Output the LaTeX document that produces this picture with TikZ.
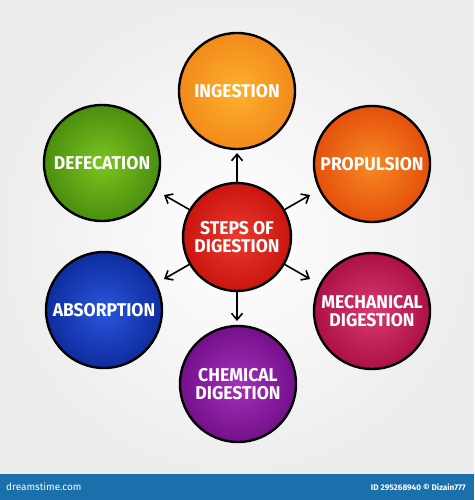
\documentclass[tikz,border=0pt]{standalone}
\usepackage{fontspec}
\newfontfamily\handfont[FakeStretch=0.95]{Fira Sans}
\setmainfont{Fira Sans}
\usetikzlibrary{arrows.meta}
\definecolor{barblue}{HTML}{1A70AB}
\definecolor{cin}{HTML}{EC3A2E}\definecolor{cout}{HTML}{C9150F}
\definecolor{ingin}{HTML}{FDB12E}\definecolor{ingout}{HTML}{F28A1A}
\definecolor{proin}{HTML}{F78A22}\definecolor{proout}{HTML}{E4500C}
\definecolor{mecin}{HTML}{D73B6E}\definecolor{mecout}{HTML}{AC1046}
\definecolor{chein}{HTML}{A431BC}\definecolor{cheout}{HTML}{74108A}
\definecolor{absin}{HTML}{2A56DC}\definecolor{absout}{HTML}{0E2C9E}
\definecolor{defin}{HTML}{7CC520}\definecolor{defout}{HTML}{4A8E0E}
\begin{document}
\begin{tikzpicture}[x=1pt,y=-1pt,
  bubble/.style={circle, draw=black, line width=2.4pt, minimum size=116pt, inner sep=0pt,
    align=center, text=white, font=\handfont\bfseries\fontsize{18.5}{18.5}\selectfont},
  conn/.style={-{Straight Barb[length=6.5pt,width=11pt]}, line width=1.6pt, black}
]
\useasboundingbox (0,0) rectangle (474,500);
\shade[inner color=white, outer color=black!7] (0,0) rectangle (474,474);
\fill[barblue] (0,474) rectangle (474,500);

\node[bubble, minimum size=108pt, inner color=cin, outer color=cout] (c) at (237,237) {STEPS OF\\DIGESTION};

\node[bubble, inner color=ingin, outer color=ingout] (ing) at (237,91) {INGESTION};
\node[bubble, inner color=proin, outer color=proout] (pro) at (372,164) {PROPULSION};
\node[bubble, inner color=mecin, outer color=mecout] (mech) at (372,311) {MECHANICAL\\DIGESTION};
\node[bubble, inner color=chein, outer color=cheout] (chem) at (238,384) {CHEMICAL\\DIGESTION};
\node[bubble, inner color=absin, outer color=absout] (abs) at (104,310) {ABSORPTION};
\node[bubble, inner color=defin, outer color=defout] (def) at (102,163) {DEFECATION};

\coordinate (tu) at (237,153);
\coordinate (td) at (237,321);
\coordinate (tur) at (310,195);
\coordinate (tul) at (164,195);
\coordinate (tdr) at (310,279);
\coordinate (tdl) at (164,279);
\draw[conn] (c) -- (tu);
\draw[conn] (c) -- (td);
\draw[conn] (c) -- (tur);
\draw[conn] (c) -- (tul);
\draw[conn] (c) -- (tdr);
\draw[conn] (c) -- (tdl);

\node[anchor=west, text=white, font=\fontsize{10}{12}\selectfont, inner sep=0pt] (dt) at (6,487) {dreamstime.com};
\node[anchor=east, text=white, font=\bfseries\fontsize{8.2}{10}\selectfont, inner sep=0pt] (id) at (466,487) {ID 295268940 © Dizain777};
\end{tikzpicture}
\end{document}
